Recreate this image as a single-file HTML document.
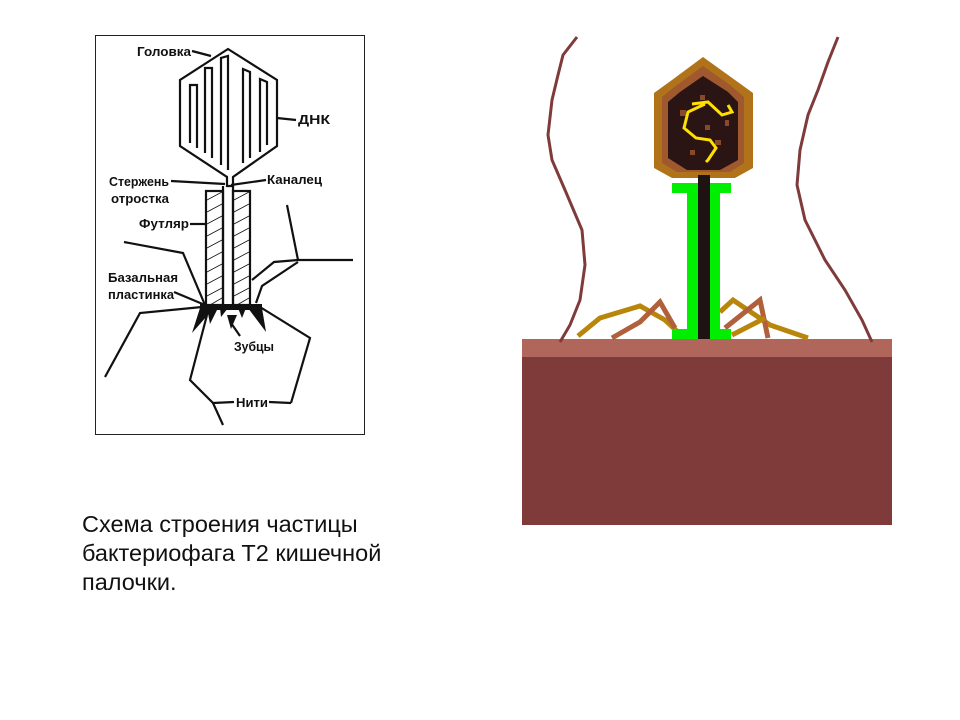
<!DOCTYPE html>
<html><head><meta charset="utf-8"><style>
html,body{margin:0;padding:0;background:#fff;}
body{width:960px;height:720px;position:relative;overflow:hidden;font-family:"Liberation Sans",sans-serif;}
.cap{position:absolute;left:82px;top:510px;font-size:23.5px;line-height:29px;color:#111;}
</style></head><body>
<svg width="960" height="720" style="position:absolute;left:0;top:0">
<rect x="95.5" y="35.5" width="269" height="399" fill="#fff" stroke="#222" stroke-width="1"/>
<g stroke="#111" fill="none" stroke-width="2.2" stroke-linejoin="miter">
<polygon points="228,49 277,80 277,146 233,177 233,186 227,186 227,177 180,146 180,80"/>
<polyline points="190,143 190,85 197,85 197,148"/>
<polyline points="205,153 205,68 212,68 212,158"/>
<polyline points="221,165 221,58 228,56 228,170"/>
<polyline points="243,163 243,69 250,72 250,158"/>
<polyline points="260,152 260,79 267,82 267,145"/>
<line x1="223" y1="186" x2="223" y2="305"/>
<line x1="233" y1="186" x2="233" y2="305"/>
<rect x="206" y="191" width="17" height="114"/>
<rect x="233" y="191" width="17" height="114"/>
<polyline points="124,242 183,253 205,305"/>
<polyline points="287,205 298,260 353,260"/>
<polyline points="298,260 274,262 252,280"/>
<polyline points="298,262 262,286 256,303"/>
<polyline points="202,307 140,313 105,377"/>
<polyline points="207,315 190,380 213,403 223,425"/>
<polyline points="260,307 310,338 291,403"/>
<line x1="192" y1="51" x2="211" y2="56"/>
<line x1="277" y1="118" x2="296" y2="120"/>
<line x1="171" y1="181" x2="225" y2="184"/>
<line x1="231" y1="185" x2="266" y2="180"/>
<line x1="190" y1="224" x2="206" y2="224"/>
<line x1="174" y1="292" x2="205" y2="305"/>
<line x1="231" y1="323" x2="240" y2="336"/>
<line x1="213" y1="403" x2="234" y2="402"/>
<line x1="269" y1="402" x2="291" y2="403"/>
</g>
<g stroke="#111" stroke-width="0.8">
<path d="M207,200 l15,-8 M207,212 l15,-8 M207,224 l15,-8 M207,236 l15,-8 M207,248 l15,-8 M207,260 l15,-8 M207,272 l15,-8 M207,284 l15,-8 M207,296 l15,-8 M210,305 l12,-7"/>
<path d="M234,200 l15,-8 M234,212 l15,-8 M234,224 l15,-8 M234,236 l15,-8 M234,248 l15,-8 M234,260 l15,-8 M234,272 l15,-8 M234,284 l15,-8 M234,296 l15,-8 M237,305 l12,-7"/>
</g>
<rect x="200" y="304" width="62" height="6" fill="#111"/>
<g fill="#111">
<polygon points="200,308 214,308 192,333"/>
<polygon points="207,308 218,308 210,324"/>
<polygon points="220,308 228,308 221,317"/>
<polygon points="227,315 237,315 231,329"/>
<polygon points="238,308 246,308 242,318"/>
<polygon points="248,308 262,308 266,332"/>
</g>
<g font-family="Liberation Sans,sans-serif" font-size="13" font-weight="bold" fill="#111" lengthAdjust="spacingAndGlyphs">
<text x="137" y="56" textLength="54" lengthAdjust="spacingAndGlyphs">Головка</text>
<text x="298" y="124" textLength="32" lengthAdjust="spacingAndGlyphs">ДНК</text>
<text x="109" y="186" textLength="60" lengthAdjust="spacingAndGlyphs">Стержень</text>
<text x="111" y="203" textLength="58" lengthAdjust="spacingAndGlyphs">отростка</text>
<text x="267" y="184" textLength="55" lengthAdjust="spacingAndGlyphs">Каналец</text>
<text x="139" y="228" textLength="50" lengthAdjust="spacingAndGlyphs">Футляр</text>
<text x="108" y="282" textLength="70" lengthAdjust="spacingAndGlyphs">Базальная</text>
<text x="108" y="299" textLength="66" lengthAdjust="spacingAndGlyphs">пластинка</text>
<text x="234" y="351" textLength="40" lengthAdjust="spacingAndGlyphs">Зубцы</text>
<text x="236" y="407" textLength="32" lengthAdjust="spacingAndGlyphs">Нити</text>
</g>
<rect x="522" y="339" width="370" height="186" fill="#7f3b3a"/>
<rect x="522" y="339" width="370" height="18" fill="#b0665a"/>
<g fill="none" stroke="#7f3b3a" stroke-width="3">
<polyline points="577,37 563,55 558,75 552,100 548,135 552,160 565,190 582,230 585,265 580,300 570,325 560,342"/>
<polyline points="838,37 828,62 818,90 808,115 800,150 797,185 805,220 825,260 845,290 862,320 872,342"/>
</g>
<g fill="none" stroke-width="5">
<polyline points="578,336 600,318 640,306 665,320 680,334" stroke="#b8860b"/>
<polyline points="612,338 640,322 660,302 675,328" stroke="#b0603a"/>
<polyline points="720,312 733,300 770,325 808,338" stroke="#b8860b"/>
<polyline points="725,328 760,300 768,338" stroke="#b0603a"/>
<polyline points="732,335 765,318" stroke="#b8860b"/>
</g>
<polygon points="703,57 735,80 753,93 753,168 735,178 672,178 654,168 654,93 672,80" fill="#b0731a"/>
<polygon points="703,66 730,85 744,97 744,163 730,172 677,172 662,163 662,97 677,85" fill="#a0582e"/>
<polygon points="703,76 728,92 738,102 738,160 720,170 687,170 668,158 668,102 680,92" fill="#2a1414"/>
<g fill="#8a4a2a"><rect x="680" y="110" width="6" height="6"/><rect x="700" y="95" width="5" height="5"/><rect x="715" y="140" width="6" height="5"/><rect x="690" y="150" width="5" height="5"/><rect x="725" y="120" width="4" height="6"/><rect x="705" y="125" width="5" height="5"/></g>
<path d="M692,104 L708,102 L722,115 L732,112 L728,105 M705,104 L688,112 L684,128 L696,138 L710,140 L716,148 L708,160 L706,162" fill="none" stroke="#ffe000" stroke-width="3"/>
<rect x="672" y="183" width="59" height="10" fill="#00ee00"/>
<rect x="687" y="183" width="33" height="156" fill="#00ee00"/>
<rect x="672" y="329" width="59" height="10" fill="#00ee00"/>
<rect x="698" y="175" width="12" height="164" fill="#1f1212"/>
</svg>
<div class="cap">Схема строения частицы<br>бактериофага Т2 кишечной<br>палочки.</div>
</body></html>
